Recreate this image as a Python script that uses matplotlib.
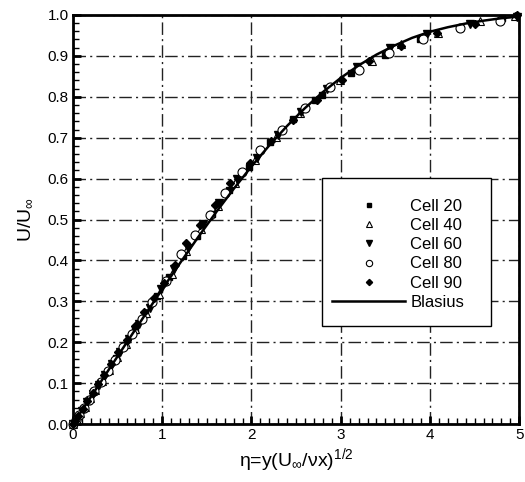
import numpy as np
import matplotlib
matplotlib.use("Agg")
import matplotlib.pyplot as plt
from matplotlib.patches import Rectangle
from matplotlib.ticker import MultipleLocator

plt.rcParams["font.family"] = ["Liberation Sans", "DejaVu Sans"]
plt.rcParams["mathtext.fontset"] = "custom"
plt.rcParams["mathtext.rm"] = "Liberation Sans"
plt.rcParams["mathtext.it"] = "Liberation Sans"

# Blasius profile
blasius_eta = [0.0, 0.2, 0.4, 0.6, 0.8, 1.0, 1.2, 1.4, 1.6, 1.8, 2.0, 2.2, 2.4, 2.6,
               2.8, 3.0, 3.2, 3.4, 3.6, 3.8, 4.0, 4.2, 4.4, 4.6, 4.8, 5.0]
blasius_u = [0.0, 0.0664, 0.1328, 0.1989, 0.2647, 0.3298, 0.3938, 0.4563, 0.5168,
             0.5748, 0.6298, 0.6813, 0.7290, 0.7725, 0.8115, 0.8461, 0.8765, 0.9030,
             0.9250, 0.9440, 0.9590, 0.9700, 0.9790, 0.9860, 0.9920, 0.9960]

# measured points per cell
cell20_eta = [0.0, 0.05, 0.11, 0.17, 0.24, 0.31, 0.39, 0.48, 0.58, 0.69, 0.81, 0.94, 1.08,
              1.23, 1.39, 1.56, 1.75, 1.97, 2.21, 2.47, 2.71, 2.79, 3.12, 3.50, 3.89, 4.34, 4.81]
cell20_u = [0.0, 0.017, 0.037, 0.057, 0.080, 0.104, 0.131, 0.161, 0.194, 0.231, 0.270, 0.313,
            0.360, 0.410, 0.460, 0.514, 0.572, 0.629, 0.690, 0.745, 0.792, 0.804, 0.857,
            0.903, 0.940, 0.968, 0.993]

cell40_eta = [0.0, 0.03, 0.08, 0.13, 0.19, 0.25, 0.32, 0.40, 0.49, 0.59, 0.70, 0.82, 0.96,
              1.11, 1.27, 1.44, 1.62, 1.82, 2.04, 2.28, 2.54, 2.99, 3.35, 3.68, 4.09, 4.56, 4.95]
cell40_u = [0.0, 0.010, 0.027, 0.043, 0.063, 0.083, 0.106, 0.133, 0.163, 0.196, 0.232, 0.271,
            0.317, 0.368, 0.424, 0.478, 0.533, 0.590, 0.646, 0.701, 0.760, 0.841, 0.887,
            0.928, 0.956, 0.985, 0.997]

cell60_eta = [0.0, 0.04, 0.10, 0.16, 0.22, 0.29, 0.36, 0.44, 0.53, 0.63, 0.74, 0.86, 0.99,
              1.13, 1.29, 1.46, 1.64, 1.84, 2.06, 2.30, 2.56, 2.85, 3.18, 3.55, 3.97, 4.45, 4.98]
cell60_u = [0.0, 0.013, 0.033, 0.053, 0.073, 0.096, 0.120, 0.146, 0.176, 0.209, 0.245, 0.285,
            0.330, 0.378, 0.431, 0.489, 0.541, 0.598, 0.651, 0.706, 0.764, 0.820, 0.873,
            0.918, 0.954, 0.978, 0.996]

cell80_eta = [0.0, 0.03, 0.07, 0.12, 0.18, 0.24, 0.31, 0.39, 0.47, 0.56, 0.66, 0.77, 0.89,
              1.04, 1.21, 1.37, 1.54, 1.70, 1.89, 2.10, 2.34, 2.60, 2.88, 3.20, 3.54, 3.92,
              4.34, 4.79]
cell80_u = [0.0, 0.010, 0.023, 0.040, 0.060, 0.080, 0.104, 0.131, 0.158, 0.188, 0.221, 0.258,
            0.298, 0.350, 0.417, 0.462, 0.511, 0.564, 0.617, 0.670, 0.719, 0.772, 0.825,
            0.866, 0.907, 0.940, 0.968, 0.986]

cell90_eta = [0.0, 0.02, 0.06, 0.11, 0.16, 0.22, 0.28, 0.35, 0.43, 0.51, 0.60, 0.70, 0.80,
              0.91, 1.02, 1.14, 1.27, 1.42, 1.59, 1.76, 1.98, 2.22, 2.47, 2.73, 3.01, 3.32,
              3.68, 4.08, 4.51, 4.97]
cell90_u = [0.0, 0.007, 0.021, 0.038, 0.056, 0.076, 0.097, 0.121, 0.148, 0.176, 0.206, 0.240,
            0.274, 0.308, 0.345, 0.390, 0.442, 0.487, 0.536, 0.589, 0.637, 0.692, 0.743,
            0.792, 0.842, 0.887, 0.923, 0.955, 0.979, 0.999]

fig = plt.figure(figsize=(5.25, 4.82), dpi=100)
ax = fig.add_axes([0.139, 0.120, 0.850, 0.849])

ax.plot(cell20_eta, cell20_u, linestyle="none", marker="s", ms=5, color="black",
        label="Cell 20", clip_on=False)
ax.plot(cell40_eta, cell40_u, linestyle="none", marker="^", ms=5.5, mfc="white",
        mec="black", mew=0.8, label="Cell 40", clip_on=False)
ax.plot(cell60_eta, cell60_u, linestyle="none", marker="v", ms=5.5, color="black",
        label="Cell 60", clip_on=False)
ax.plot(cell80_eta, cell80_u, linestyle="none", marker="o", ms=6.5, mfc="white",
        mec="black", mew=0.8, label="Cell 80", clip_on=False)
ax.plot(cell90_eta, cell90_u, linestyle="none", marker="D", ms=4.5, color="black",
        label="Cell 90", clip_on=False)
ax.plot(blasius_eta, blasius_u, color="black", lw=1.8, label="Blasius")

ax.set_xlim(0, 5)
ax.set_ylim(0, 1)
ax.xaxis.set_major_locator(MultipleLocator(1))
ax.xaxis.set_minor_locator(MultipleLocator(0.1))
ax.yaxis.set_major_locator(MultipleLocator(0.1))
ax.yaxis.set_minor_locator(MultipleLocator(0.02))
ax.xaxis.set_major_formatter(plt.FormatStrFormatter("%d"))
ax.yaxis.set_major_formatter(plt.FormatStrFormatter("%.1f"))

ax.tick_params(which="major", direction="in", length=6, width=2, labelsize=11,
               top=False, right=False, pad=3)
ax.tick_params(which="minor", direction="in", length=4, width=1, top=False, right=False)
for s in ax.spines.values():
    s.set_linewidth(2)

ax.grid(True, which="major", color="#222222", lw=1, linestyle=(0, (9, 3, 1.5, 3)))

ax.set_xlabel(r"η=y(U$_{\infty}$/νx)$^{1/2}$", fontsize=14, labelpad=3)
ax.set_ylabel(r"U/U$_{\infty}$", fontsize=14, labelpad=10)

# legend box drawn separately so it can have more room above and below the entries
ax.add_patch(Rectangle((0.558, 0.240), 0.379, 0.361, transform=ax.transAxes,
                       facecolor="white", edgecolor="black", lw=1, zorder=4))
leg = ax.legend(loc="upper left", bbox_to_anchor=(0.558, 0.575), fontsize=12,
                handlelength=4.4, handletextpad=0.3, labelspacing=0.25,
                borderpad=0.6, borderaxespad=0, markerscale=0.7, frameon=False)
leg.set_zorder(5)

plt.savefig("out.png", dpi=100)
